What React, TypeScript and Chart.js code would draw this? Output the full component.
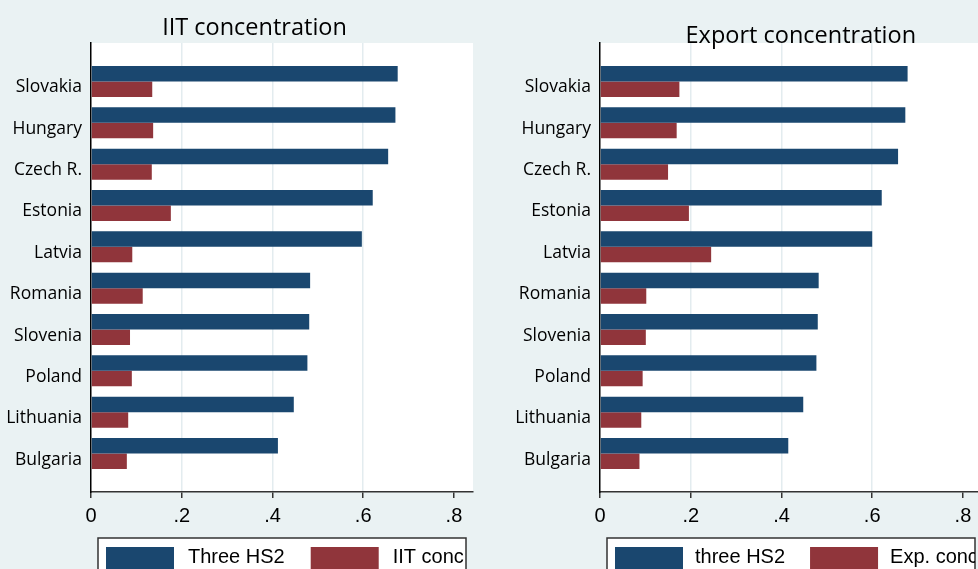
import React, { useEffect, useRef } from "react";
import { Chart, registerables } from "chart.js";
Chart.register(...registerables);

const countries = ["Slovakia", "Hungary", "Czech R.", "Estonia", "Latvia", "Romania", "Slovenia", "Poland", "Lithuania", "Bulgaria"];
const iitThreeHS2 = [0.676, 0.671, 0.655, 0.621, 0.597, 0.483, 0.481, 0.477, 0.447, 0.412];
const iitConc = [0.135, 0.137, 0.134, 0.176, 0.091, 0.114, 0.086, 0.09, 0.082, 0.079];
const expThreeHS2 = [0.678, 0.673, 0.657, 0.621, 0.6, 0.482, 0.48, 0.477, 0.448, 0.415];
const expConc = [0.175, 0.169, 0.15, 0.196, 0.245, 0.102, 0.101, 0.094, 0.091, 0.087];
const xTickValues = [0, 0.2, 0.4, 0.6, 0.8];
const xTickLabels = ["0", ".2", ".4", ".6", ".8"];
const iitLegend = ["Three HS2", "IIT conc"];
const expLegend = ["three HS2", "Exp. conc"];

const NAVY = "#1a476f";
const MAROON = "#90353b";
const BG = "#eaf2f3";

type PanelProps = {
  title: string;
  titleX: number;
  titleY: number;
  legend: string[];
  blue: number[];
  red: number[];
  left: number;
  textGap: number;
  itemGap: number;
};

function Panel({ title, titleX, titleY, legend, blue, red, left, textGap, itemGap }: PanelProps) {
  const ref = useRef<HTMLCanvasElement | null>(null);
  useEffect(() => {
    const canvas = ref.current!;
    const bgPlugin = {
      id: "bgFill",
      beforeDraw(chart: any) {
        const { ctx, chartArea, width, height } = chart;
        ctx.save();
        ctx.fillStyle = BG;
        ctx.fillRect(0, 0, width, height);
        ctx.fillStyle = "#ffffff";
        ctx.fillRect(chartArea.left, chartArea.top, chartArea.right - chartArea.left, chartArea.bottom - chartArea.top);
        ctx.restore();
      },
    };
    const titlePlugin = {
      id: "panelTitle",
      afterDraw(chart: any) {
        const { ctx } = chart;
        ctx.save();
        ctx.font = '23.5px "Open Sans"';
        ctx.fillStyle = "#000";
        ctx.textAlign = "center";
        ctx.textBaseline = "alphabetic";
        ctx.fillText(title, titleX, titleY);
        ctx.restore();
      },
    };
    const legendPlugin = {
      id: "boxLegend",
      afterDraw(chart: any) {
        const { ctx, chartArea } = chart;
        const boxLeft = chartArea.left + 7;
        const boxRight = chartArea.right - 7;
        const boxTop = chartArea.bottom + 46;
        ctx.save();
        ctx.fillStyle = "#fff";
        ctx.fillRect(boxLeft, boxTop, boxRight - boxLeft, 60);
        ctx.strokeStyle = "#333";
        ctx.lineWidth = 1.5;
        ctx.strokeRect(boxLeft, boxTop, boxRight - boxLeft, 60);
        ctx.beginPath();
        ctx.rect(boxLeft, boxTop, boxRight - boxLeft, 60);
        ctx.clip();
        ctx.font = '20px "Liberation Sans"';
        ctx.textBaseline = "alphabetic";
        ctx.textAlign = "left";
        let x = boxLeft + 8;
        chart.data.datasets.forEach((ds: any) => {
          ctx.fillStyle = ds.backgroundColor;
          ctx.fillRect(x, boxTop + 9, 68, 26);
          x += 68 + textGap;
          ctx.fillStyle = "#000";
          ctx.fillText(ds.label, x, boxTop + 25);
          x += ctx.measureText(ds.label).width + itemGap;
        });
        ctx.restore();
      },
    };
    const chart = new Chart(canvas, {
      type: "bar",
      data: {
        datasets: [
          {
            label: legend[0],
            data: countries.map((c, i) => ({ x: blue[i], y: i })),
            backgroundColor: NAVY,
            borderWidth: 0,
            categoryPercentage: 0.75,
            barPercentage: 1,
          },
          {
            label: legend[1],
            data: countries.map((c, i) => ({ x: red[i], y: i })),
            backgroundColor: MAROON,
            borderWidth: 0,
            categoryPercentage: 0.75,
            barPercentage: 1,
          },
        ],
      } as any,
      options: {
        animation: false,
        responsive: false,
        devicePixelRatio: 1,
        indexAxis: "y",
        layout: { padding: { left: 0, right: 17, top: 43, bottom: 0 } },
        plugins: {
          legend: { display: false },
          title: { display: false },
          tooltip: { enabled: false },
        },
        scales: {
          x: {
            type: "linear",
            min: 0,
            max: 0.842,
            afterBuildTicks: (s: any) => {
              s.ticks = xTickValues.map((v) => ({ value: v }));
            },
            afterFit: (s: any) => {
              s.height = 77;
            },
            ticks: {
              callback: (v: any, i: number) => xTickLabels[i],
              font: { family: "Liberation Sans", size: 20 },
              color: "#000",
              padding: 6,
              maxRotation: 0,
              autoSkip: false,
            },
            grid: {
              color: (ctx: any) => (ctx.index === 0 || ctx.index === xTickValues.length - 1 ? "rgba(0,0,0,0)" : "#e3ecef"),
              lineWidth: 1.5,
              tickLength: 6,
              tickColor: "#333",
              tickWidth: 1.5,
            },
            border: { color: "#333", width: 1.5 },
          },
          y: {
            type: "linear",
            reverse: true,
            offset: false,
            min: -0.93,
            max: 9.93,
            afterBuildTicks: (s: any) => {
              s.ticks = countries.map((c, i) => ({ value: i }));
            },
            afterFit: (s: any) => {
              s.width = 91;
            },
            ticks: {
              callback: (v: any, i: number) => countries[i],
              font: { family: "Open Sans", size: 17.5 },
              color: "#000",
              padding: 9,
              labelOffset: 6,
              autoSkip: false,
            },
            grid: { display: false, drawTicks: false, offset: false },
            border: { color: "#000", width: 1.5 },
          },
        },
      } as any,
      plugins: [bgPlugin, titlePlugin, legendPlugin],
    });
    return () => chart.destroy();
  }, []);
  return (
    <canvas
      ref={ref}
      width={490}
      height={569}
      style={{ position: "absolute", left, top: 0, width: 490, height: 569 }}
    />
  );
}

export default function App() {
  return (
    <div style={{ position: "absolute", left: 0, top: 0, width: 978, height: 569, overflow: "hidden", background: BG }}>
      <Panel title="IIT concentration" titleX={254.5} titleY={35} legend={iitLegend} blue={iitThreeHS2} red={iitConc} left={0} textGap={14} itemGap={26} />
      <Panel title="Export concentration" titleX={291.8} titleY={42.7} legend={expLegend} blue={expThreeHS2} red={expConc} left={509} textGap={12} itemGap={25} />
    </div>
  );
}
